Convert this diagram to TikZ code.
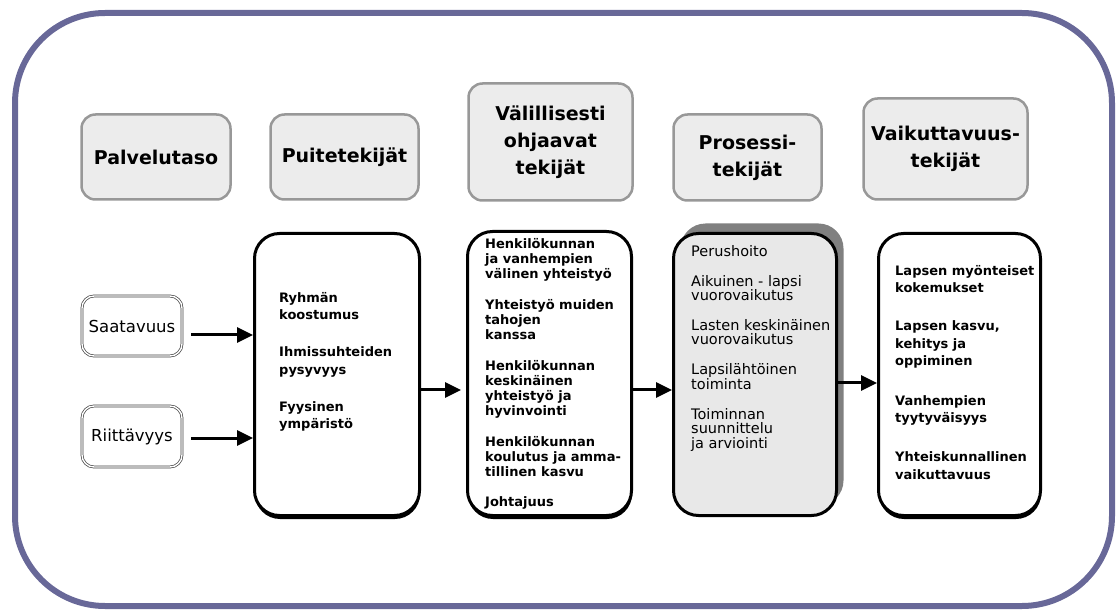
\documentclass[tikz,border=0pt]{standalone}
\usepackage{fontspec}
\setmainfont{DejaVu Sans}
\usetikzlibrary{arrows.meta,shadows}
\definecolor{framec}{RGB}{104,104,152}
\definecolor{hdrfill}{RGB}{236,236,236}
\definecolor{hdrdraw}{RGB}{152,152,152}
\definecolor{prosfill}{RGB}{232,232,232}
\definecolor{shadowc}{RGB}{128,128,128}
\newcommand{\firstln}{\rule{0pt}{12pt}}
\begin{document}
\begin{tikzpicture}[x=1pt,y=-1pt,
  hdr/.style={draw=hdrdraw, fill=hdrfill, line width=2.5pt, rounded corners=14pt,
    align=center, inner sep=0pt, font=\fontsize{19}{27}\selectfont\bfseries},
  mainbox/.style={draw=black, fill=white, line width=3pt, rounded corners=25pt, inner sep=0pt,
    drop shadow={shadow xshift=0.5pt, shadow yshift=-3.5pt, fill=black, opacity=1}},
  prosbox/.style={draw=black, fill=prosfill, line width=3pt, rounded corners=25pt, inner sep=0pt,
    drop shadow={shadow xshift=7pt, shadow yshift=10pt, fill=shadowc, opacity=1}},
  srcbox/.style={draw=black!75, double=white, double distance=1.4pt, line width=0.7pt,
    rounded corners=12pt, inner sep=0pt, font=\fontsize{16.5}{20}\selectfont},
  itemtxt/.style={anchor=north west, align=left, inner sep=0pt},
  arr/.style={line width=3pt, -{Triangle[length=16pt,width=15pt]}},
]
\useasboundingbox (0,0) rectangle (1117,612);
% outer frame
\draw[framec, line width=6pt, rounded corners=90pt] (15,13) rectangle (1112,606);

% header boxes
\node[hdr, minimum width=149pt, minimum height=85pt] (h1) at (156,157) {Palvelutaso};
\node[hdr, minimum width=148pt, minimum height=85pt] (h2) at (344.5,157) {Puitetekijät};
\node[hdr, minimum width=164pt, minimum height=117pt] (h3) at (550.5,142) {Välillisesti\\ohjaavat\\tekijät};
\node[hdr, minimum width=148pt, minimum height=86pt] (h4) at (747.5,157.5) {Prosessi-\\tekijät};
\node[hdr, minimum width=164pt, minimum height=101pt] (h5) at (945.5,149) {Vaikuttavuus-\\tekijät};

% source boxes
\node[srcbox, minimum width=100pt, minimum height=60pt] (saat) at (132,326) {Saatavuus};
\node[srcbox, minimum width=100pt, minimum height=61pt] (riit) at (132,436.5) {Riittävyys};

% main boxes
\node[mainbox, minimum width=165pt, minimum height=282pt] (puite) at (337,374.5) {};
\node[mainbox, minimum width=164pt, minimum height=284pt] (val) at (549.5,373.5) {};
\node[prosbox, minimum width=163pt, minimum height=282pt] (pros) at (755,374.5) {};
\node[mainbox, minimum width=162pt, minimum height=282pt] (vaik) at (959.5,374.5) {};

% texts (anchor is 12pt above the first baseline)
\node[itemtxt, font=\fontsize{13}{17.5}\selectfont\bfseries] (tpuite) at (279,290)
  {\firstln Ryhmän\\koostumus\\[19.5pt]Ihmissuhteiden\\pysyvyys\\[19.5pt]Fyysinen\\ympäristö};
\node[itemtxt, font=\fontsize{13}{15}\selectfont\bfseries] (tval) at (485,236)
  {\firstln Henkilökunnan\\ja vanhempien\\välinen yhteistyö\\[16pt]Yhteistyö muiden\\tahojen\\kanssa\\[16pt]Henkilökunnan\\keskinäinen\\yhteistyö ja\\hyvinvointi\\[16pt]Henkilökunnan\\koulutus ja amma-\\tillinen kasvu\\[15pt]Johtajuus};
\node[itemtxt, font=\fontsize{14.5}{14.5}\selectfont] (tpros) at (691,244)
  {\firstln Perushoito\\[15.5pt]Aikuinen - lapsi\\vuorovaikutus\\[15pt]Lasten keskinäinen\\vuorovaikutus\\[15.5pt]Lapsilähtöinen\\toiminta\\[15.5pt]Toiminnan\\suunnittelu\\ja arviointi};
\node[itemtxt, font=\fontsize{13}{17.5}\selectfont\bfseries] (tvaik) at (895,263)
  {\firstln Lapsen myönteiset\\kokemukset\\[20.5pt]Lapsen kasvu,\\kehitys ja\\oppiminen\\[22pt]Vanhempien\\tyytyväisyys\\[21.5pt]Yhteiskunnallinen\\vaikuttavuus};

% arrows
\coordinate (r1) at (0,335);
\coordinate (r2) at (0,438);
\coordinate (r3) at (0,390);
\coordinate (r4) at (0,383);
\draw[arr, shorten <=9pt] (saat.east |- r1) -- (puite.west |- r1);
\draw[arr, shorten <=9pt] (riit.east |- r2) -- (puite.west |- r2);
\draw[arr, shorten >=5pt] (puite.east |- r3) -- (val.west |- r3);
\draw[arr] (val.east |- r3) -- (pros.west |- r3);
\draw[arr] (pros.east |- r4) -- (vaik.west |- r4);
\end{tikzpicture}
\end{document}
